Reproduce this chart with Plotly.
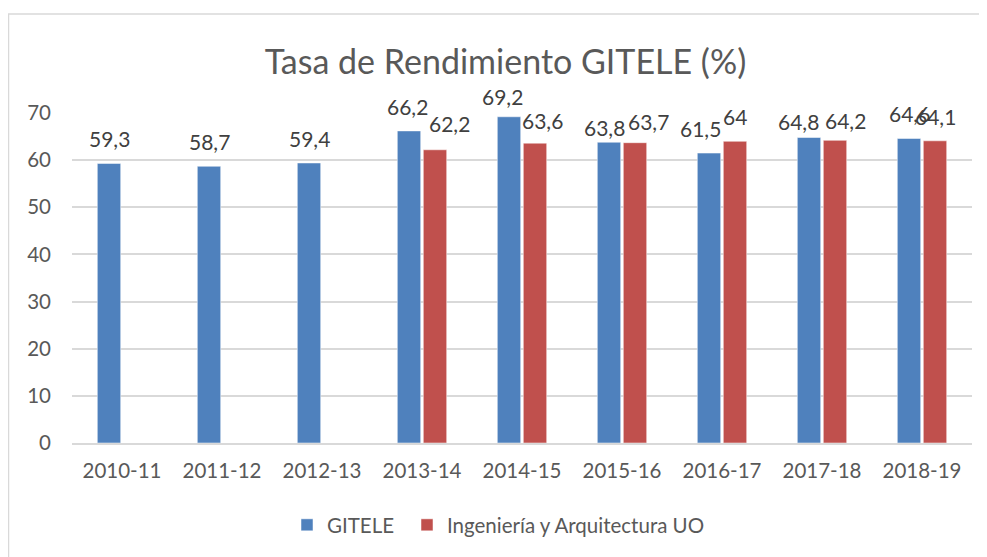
import plotly.graph_objects as go

categories = ["2010-11", "2011-12", "2012-13", "2013-14", "2014-15",
              "2015-16", "2016-17", "2017-18", "2018-19"]
gitele = [59.3, 58.7, 59.4, 66.2, 69.2, 63.8, 61.5, 64.8, 64.6]
ingenieria = [None, None, None, 62.2, 63.6, 63.7, 64.0, 64.2, 64.1]
y_ticks = [0, 10, 20, 30, 40, 50, 60, 70]

def fmt(v):
    s = ("%.1f" % v).replace(".", ",")
    return s[:-2] if s.endswith(",0") else s

FONT = "Lato, Calibri, Carlito, sans-serif"

# page body has an 8px margin; figure-space layout compensates for it
L, T, PW, PH = 64, 105, 900, 330
W, H = 987, 557
BARGAP = 0.48
SLOT = PW / len(categories) * (1 - BARGAP) / 2  # px width of one bar slot

# small pixel nudges of individual data labels (dx, dy) as in the original chart
label_nudge = {
    ("GITELE", "2013-14"): (-2, 0), ("UO", "2013-14"): (14, -2),
    ("GITELE", "2014-15"): (-7, 4), ("UO", "2014-15"): (7, 2),
    ("GITELE", "2015-16"): (-5, 10), ("UO", "2015-16"): (13, 3),
    ("GITELE", "2016-17"): (-9, 0), ("UO", "2016-17"): (0, 0),
    ("GITELE", "2017-18"): (-11, 8), ("UO", "2017-18"): (10, 5),
}

fig = go.Figure()
fig.add_trace(go.Bar(
    x=categories, y=gitele, name="GITELE", legend="legend",
    marker=dict(color="#4f81bd", line=dict(color="white", width=0.5)),
))
fig.add_trace(go.Bar(
    x=categories, y=ingenieria, name="Ingeniería y Arquitectura UO", legend="legend2",
    marker=dict(color="#c0504d", line=dict(color="white", width=0.5)),
))

annotations = []
for key, values, shift in (("GITELE", gitele, -SLOT / 2), ("UO", ingenieria, SLOT / 2)):
    for cat, v in zip(categories, values):
        if v is None:
            continue
        dx, dy = label_nudge.get((key, cat), (0, 0))
        annotations.append(dict(
            x=cat, y=v, xref="x", yref="y", text=fmt(v), showarrow=False,
            xanchor="center", yanchor="bottom", xshift=shift + dx, yshift=10 - dy,
            font=dict(size=21, color="#404040", family=FONT)))

legend_common = dict(orientation="h", xanchor="left", y=-(517 - T - PH) / PH,
                     yanchor="middle", font=dict(size=20.5, color="#595959"),
                     itemwidth=30, bgcolor="rgba(0,0,0,0)")

fig.update_layout(
    width=W, height=H,
    margin=dict(l=L, r=W - L - PW, t=T, b=H - T - PH, autoexpand=False),
    paper_bgcolor="white", plot_bgcolor="white",
    font=dict(family=FONT, color="#595959", size=20),
    title=dict(text="Tasa de Rendimiento GITELE (%)", x=0.504, xanchor="center",
               xref="container", y=1 - 54 / H, yanchor="middle",
               font=dict(size=34, color="#595959", family=FONT)),
    barmode="group", bargap=BARGAP, bargroupgap=0.1,
    showlegend=True,
    legend=dict(x=(279 - L) / PW, **legend_common),
    legend2=dict(x=(399 - L) / PW, **legend_common),
    xaxis=dict(type="category", showgrid=False, showline=True, linecolor="#d9d9d9",
               linewidth=1.5, ticks="", automargin=False, ticklabelstandoff=9,
               tickfont=dict(size=20.5, color="#595959")),
    yaxis=dict(range=[0, 70], tickvals=y_ticks, showgrid=True, gridcolor="#d9d9d9",
               gridwidth=1.5, zeroline=False, showline=False, ticks="",
               ticklabelstandoff=20, automargin=False,
               tickfont=dict(size=20.5, color="#595959")),
    annotations=annotations,
    shapes=[dict(type="rect", xref="paper", yref="paper",
                 x0=(0.5 - L) / PW, x1=1.2, y0=-0.8, y1=(T + PH - 6) / PH,
                 line=dict(color="#d9d9d9", width=1.5), fillcolor="rgba(0,0,0,0)",
                 layer="below")],
)

fig.write_html("out.html")
